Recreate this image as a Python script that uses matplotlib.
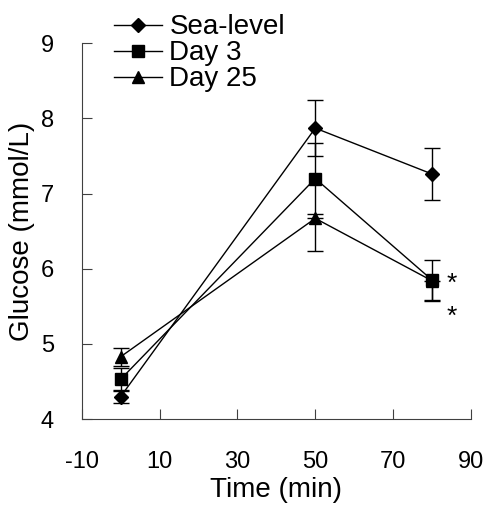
import numpy as np
import matplotlib
matplotlib.use('Agg')
from matplotlib import pyplot as plt
from matplotlib.container import ErrorbarContainer

plt.rcParams['font.family'] = ['Liberation Sans', 'DejaVu Sans']
plt.rcParams['axes.unicode_minus'] = False

time = [0, 50, 80]
labels = ['Sea-level', 'Day 3', 'Day 25']
markers = ['D', 's', '^']
msizes = [7, 8, 9]

sea_level = [4.30, 7.87, 7.26]
sea_err = [0.09, 0.37, 0.34]
day3 = [4.53, 7.20, 5.85]
day3_err = [0.15, 0.47, 0.27]
day25 = [4.83, 6.67, 5.84]
day25_lo = [0.12, 0.43, 0.27]
day25_hi = [0.12, 0.00, 0.00]

fig = plt.figure(figsize=(4.84, 5.08), dpi=100)
ax = fig.add_axes([0.169, 0.175, 0.804, 0.740])

series = [(sea_level, sea_err), (day3, day3_err), (day25, [day25_lo, day25_hi])]
for (vals, err), lab, mk, ms in zip(series, labels, markers, msizes):
    ax.errorbar(time, vals, yerr=err, color='black', lw=1, marker=mk, ms=ms,
                capsize=6, elinewidth=1, capthick=1, label=lab)

# significance marks
ax.text(85, 5.80, '*', fontsize=19, ha='center', va='center')
ax.text(85, 5.36, '*', fontsize=19, ha='center', va='center')

ax.set_xlim(-10, 90)
ax.set_ylim(4, 9)
ax.set_xticks([-10, 10, 30, 50, 70, 90])
ax.set_yticks([4, 5, 6, 7, 8, 9])
ax.spines['top'].set_visible(False)
ax.spines['right'].set_visible(False)
for s in ['left', 'bottom']:
    ax.spines[s].set_color('#404040')
ax.tick_params(direction='in', length=7, color='#404040', labelsize=17)
ax.tick_params(axis='x', pad=23)
ax.tick_params(axis='y', pad=20)
ax.set_xlabel('Time (min)', fontsize=20, labelpad=3)
ax.set_ylabel('Glucose (mmol/L)', fontsize=20, labelpad=4)

handles, labs = ax.get_legend_handles_labels()
handles = [h[0] if isinstance(h, ErrorbarContainer) else h for h in handles]
fig.legend(handles, labs, loc='upper left', bbox_to_anchor=(0.235, 0.972),
           frameon=False, fontsize=20, handlelength=1.75, handletextpad=0.25,
           labelspacing=0.0, borderpad=0, borderaxespad=0)

fig.savefig('out.png', dpi=100)
